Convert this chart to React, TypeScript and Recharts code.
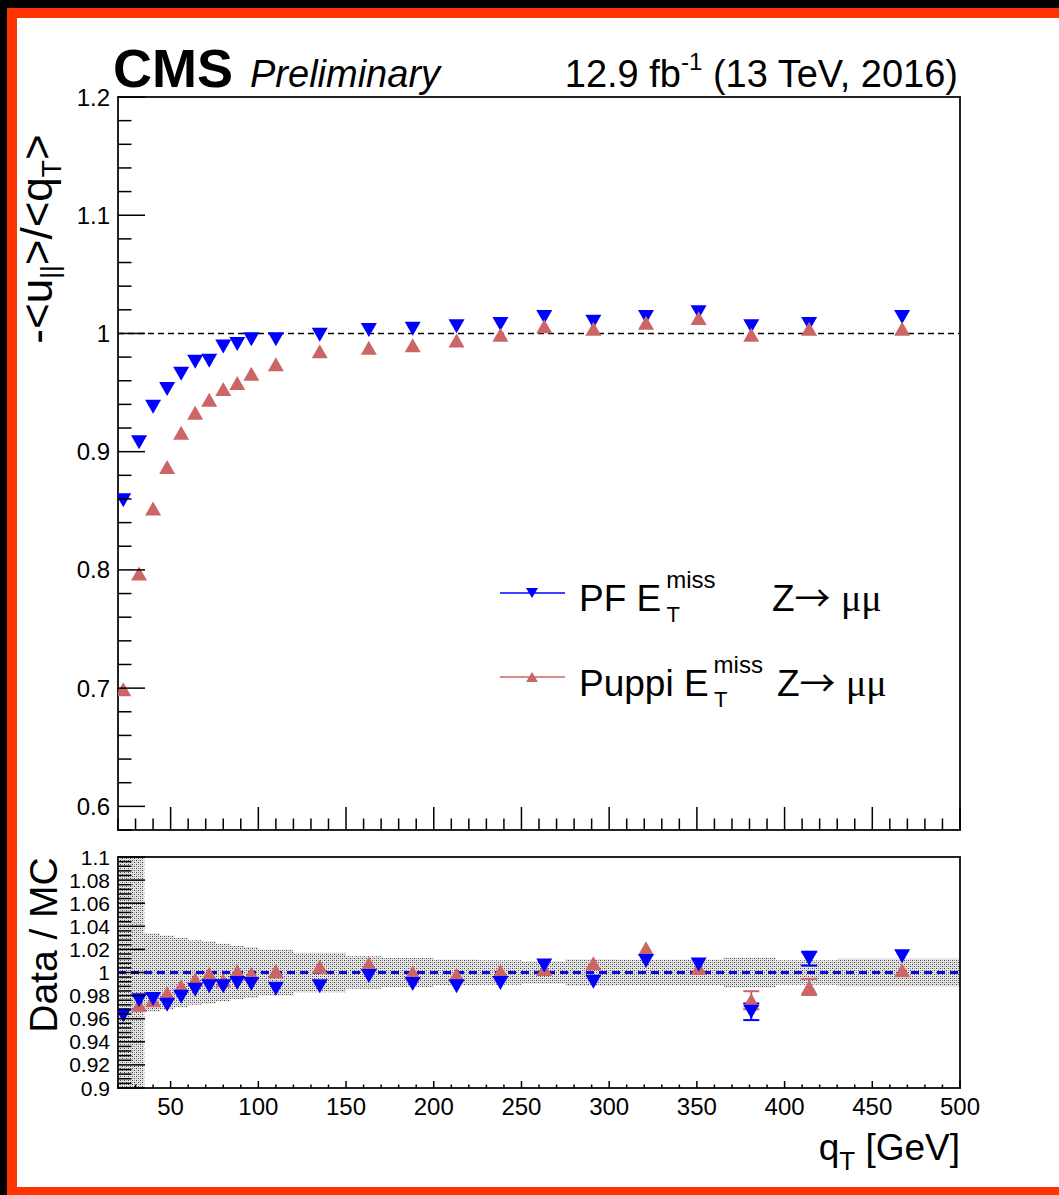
import React from 'react';
import {
  ComposedChart,
  Scatter,
  Area,
  XAxis,
  YAxis,
  ReferenceLine,
  ReferenceArea,
  ErrorBar,
} from 'recharts';

const FONT = '"Liberation Sans", Arial, Helvetica, sans-serif';
const PF_COLOR = '#0000ff';
const PUPPI_COLOR = '#cc6666';

// q_T bin centres [GeV]
const qT = [23, 32, 40, 48, 56, 64, 72, 80, 88, 96, 110, 135, 163, 188, 213, 238, 263, 291, 321, 351, 381, 414, 467];

// Response -<u_par>/<q_T> in data
const pfResponse = [0.859, 0.908, 0.938, 0.953, 0.966, 0.976, 0.977, 0.989, 0.991, 0.995, 0.995, 0.999, 1.003, 1.004, 1.006, 1.008, 1.014, 1.010, 1.014, 1.018, 1.006, 1.008, 1.014];
const puppiResponse = [0.699, 0.797, 0.852, 0.887, 0.916, 0.933, 0.944, 0.953, 0.958, 0.966, 0.974, 0.985, 0.988, 0.990, 0.994, 0.999, 1.006, 1.004, 1.009, 1.013, 0.999, 1.004, 1.004];

// Data / MC ratio of the response
const pfRatio = [0.963, 0.976, 0.977, 0.972, 0.979, 0.985, 0.988, 0.988, 0.991, 0.990, 0.986, 0.988, 0.997, 0.990, 0.988, 0.991, 1.006, 0.992, 1.010, 1.007, 0.966, 1.012, 1.014];
const puppiRatio = [null, 0.972, 0.976, 0.982, 0.988, 0.994, 0.999, 0.993, 1.001, 0.999, 1.001, 1.005, 1.0075, 1.000, 0.998, 1.001, 1.003, 1.008, 1.021, 1.004, 0.976, 0.9875, 1.002];
const pfRatioErr = [0, 0, 0, 0, 0, 0, 0, 0, 0, 0, 0, 0, 0, 0, 0, 0, 0, 0, 0, 0, 0.0072, 0.006, 0];
const puppiRatioErr = [0, 0, 0, 0, 0, 0, 0, 0, 0, 0, 0, 0, 0, 0, 0, 0, 0, 0, 0, 0, 0.0078, 0.007, 0];

// Systematic uncertainty band of the ratio (bin edges and half-widths)
const bandEdges = [20, 35, 44, 52, 60, 68, 76, 84, 92, 100, 120, 150, 170, 200, 225, 250, 275, 305, 335, 365, 395, 430, 500];
const bandHalfWidth = [0.1, 0.034, 0.032, 0.030, 0.028, 0.027, 0.025, 0.023, 0.022, 0.020, 0.017, 0.014, 0.0125, 0.0113, 0.0105, 0.0098, 0.0115, 0.011, 0.0113, 0.013, 0.0105, 0.012];

// Axis ticks and labels
const xMajor = [50, 100, 150, 200, 250, 300, 350, 400, 450, 500];
const xLabels = ['50', '100', '150', '200', '250', '300', '350', '400', '450', '500'];
const topYMajor = [0.6, 0.7, 0.8, 0.9, 1.0, 1.1, 1.2];
const topYLabels = ['0.6', '0.7', '0.8', '0.9', '1', '1.1', '1.2'];
const ratioYMajor = [0.9, 0.92, 0.94, 0.96, 0.98, 1.0, 1.02, 1.04, 1.06, 1.08, 1.1];
const ratioYLabels = ['0.9', '0.92', '0.94', '0.96', '0.98', '1', '1.02', '1.04', '1.06', '1.08', '1.1'];

const X_DOMAIN: [number, number] = [20, 500];
const TOP_Y_DOMAIN: [number, number] = [0.58, 1.2];
const RATIO_Y_DOMAIN: [number, number] = [0.9, 1.1];

const near = (a: number, b: number) => Math.abs(a - b) < 1e-6;

function withMinor(lo: number, hi: number, step: number, majors: number[]): number[] {
  const out: number[] = [...majors];
  const n = Math.round((hi - lo) / step);
  for (let i = 0; i <= n; i++) {
    const v = Math.round((lo + i * step) * 10000) / 10000;
    if (!majors.some((m) => near(m, v))) out.push(v);
  }
  return out.sort((a, b) => a - b);
}

const xTicks = withMinor(20, 500, 10, xMajor);
const topYTicks = withMinor(0.58, 1.2, 0.02, topYMajor);
const ratioYTicks = withMinor(0.9, 1.1, 0.004, ratioYMajor);

const responseRows = (values: (number | null)[]) =>
  qT.map((q, i) => ({ q, v: values[i] })).filter((r) => r.v !== null);

const ratioRows = (values: (number | null)[], errs: number[]) =>
  qT.map((q, i) => ({ q, v: values[i], err: errs[i] })).filter((r) => r.v !== null);

const pfTop = responseRows(pfResponse);
const puppiTop = responseRows(puppiResponse);
const pfBottom = ratioRows(pfRatio, pfRatioErr);
const puppiBottom = ratioRows(puppiRatio, puppiRatioErr);
const pfBottomErr = pfBottom.filter((r) => r.err > 0);
const puppiBottomErr = puppiBottom.filter((r) => r.err > 0);

const bandRows = bandEdges.map((q, i) => {
  const hw = bandHalfWidth[Math.min(i, bandHalfWidth.length - 1)];
  return { q, band: [1 - hw, 1 + hw] };
});

// Triangle markers (ROOT styles 22 / 23)
const triangle = (color: string, down: boolean, w = 16, h = 14) => (props: any) => {
  const { cx, cy } = props;
  if (cx == null || cy == null) return <g />;
  const pts = down
    ? `${cx - w / 2},${cy - h / 2} ${cx + w / 2},${cy - h / 2} ${cx},${cy + h / 2}`
    : `${cx - w / 2},${cy + h / 2} ${cx + w / 2},${cy + h / 2} ${cx},${cy - h / 2}`;
  return <polygon points={pts} fill={color} />;
};
const nothing = () => <g />;

// Inward-pointing ticks in the ROOT style
const yTick = (majors: number[], labels: string[] | null, majorLen: number, minorLen: number, fontSize: number) => (props: any) => {
  const { x, y, payload } = props;
  const idx = majors.findIndex((m) => near(m, payload.value));
  const isMajor = idx >= 0;
  return (
    <g>
      <line x1={x} y1={y} x2={x + (isMajor ? majorLen : minorLen)} y2={y} stroke="#000" strokeWidth={1.5} />
      {isMajor && labels && (
        <text x={x - 8} y={y} textAnchor="end" dominantBaseline="central" fontSize={fontSize} fontFamily={FONT} fill="#000">
          {labels[idx]}
        </text>
      )}
    </g>
  );
};

const xTick = (labels: string[] | null, majorLen: number, minorLen: number) => (props: any) => {
  const { x, y, payload } = props;
  const idx = xMajor.findIndex((m) => near(m, payload.value));
  const isMajor = idx >= 0;
  return (
    <g>
      <line x1={x} y1={y} x2={x} y2={y - (isMajor ? majorLen : minorLen)} stroke="#000" strokeWidth={1.5} />
      {isMajor && labels && (
        <text x={x} y={y + 27} textAnchor="middle" fontSize={24} fontFamily={FONT} fill="#000">
          {labels[idx]}
        </text>
      )}
    </g>
  );
};

function ResponsePanel() {
  return (
    <ComposedChart width={1059} height={860} margin={{ top: 97, right: 99, bottom: 0, left: 78 }}>
      <ReferenceLine y={1} stroke="#000" strokeWidth={1.5} strokeDasharray="6 4" />
      <Scatter data={pfTop} dataKey="v" shape={triangle(PF_COLOR, true)} isAnimationActive={false} />
      <Scatter data={puppiTop} dataKey="v" shape={triangle(PUPPI_COLOR, false)} isAnimationActive={false} />
      <ReferenceArea
        x1={X_DOMAIN[0]}
        x2={X_DOMAIN[1]}
        y1={TOP_Y_DOMAIN[0]}
        y2={TOP_Y_DOMAIN[1]}
        fill="none"
        fillOpacity={0}
        stroke="#222"
        strokeWidth={2}
      />
      <XAxis
        dataKey="q"
        type="number"
        domain={X_DOMAIN}
        allowDataOverflow
        ticks={xTicks}
        interval={0}
        tickSize={0}
        tickMargin={0}
        axisLine={false}
        height={30}
        tick={xTick(null, 23, 11.5)}
      />
      <YAxis
        dataKey="v"
        type="number"
        domain={TOP_Y_DOMAIN}
        allowDataOverflow
        ticks={topYTicks}
        interval={0}
        tickSize={0}
        tickMargin={0}
        axisLine={false}
        width={40}
        tick={yTick(topYMajor, topYLabels, 27, 13.5, 24)}
      />
    </ComposedChart>
  );
}

function RatioPanel() {
  return (
    <ComposedChart width={1059} height={355} margin={{ top: 17, right: 99, bottom: 67, left: 78 }}>
      <defs>
        <pattern id="stipple" width="4" height="4" patternUnits="userSpaceOnUse">
          <rect width="4" height="4" fill="#e4e4e4" />
          <rect x="0" y="0" width="1" height="1" fill="#404040" />
          <rect x="2" y="2" width="1" height="1" fill="#404040" />
          <rect x="2" y="0" width="1" height="1" fill="#a0a0a0" />
          <rect x="0" y="2" width="1" height="1" fill="#a0a0a0" />
        </pattern>
      </defs>
      <Area
        data={bandRows}
        dataKey="band"
        type="stepAfter"
        fill="url(#stipple)"
        fillOpacity={1}
        stroke="none"
        dot={false}
        activeDot={false}
        isAnimationActive={false}
      />
      <ReferenceLine y={1} stroke="#0a0adc" strokeWidth={3} strokeDasharray="8 5" />
      <Scatter data={puppiBottom} dataKey="v" shape={triangle(PUPPI_COLOR, false)} isAnimationActive={false} />
      <Scatter data={puppiBottomErr} dataKey="v" shape={nothing} isAnimationActive={false}>
        <ErrorBar dataKey="err" direction="y" width={8} stroke={PUPPI_COLOR} strokeWidth={2} />
      </Scatter>
      <Scatter data={pfBottom} dataKey="v" shape={triangle(PF_COLOR, true)} isAnimationActive={false} />
      <Scatter data={pfBottomErr} dataKey="v" shape={nothing} isAnimationActive={false}>
        <ErrorBar dataKey="err" direction="y" width={8} stroke={PF_COLOR} strokeWidth={2} />
      </Scatter>
      <ReferenceArea
        x1={X_DOMAIN[0]}
        x2={X_DOMAIN[1]}
        y1={RATIO_Y_DOMAIN[0]}
        y2={RATIO_Y_DOMAIN[1]}
        fill="none"
        fillOpacity={0}
        stroke="#222"
        strokeWidth={2}
      />
      <XAxis
        dataKey="q"
        type="number"
        domain={X_DOMAIN}
        allowDataOverflow
        ticks={xTicks}
        interval={0}
        tickSize={0}
        tickMargin={0}
        axisLine={false}
        height={40}
        tick={xTick(xLabels, 7, 3.5)}
      />
      <YAxis
        dataKey="v"
        type="number"
        domain={RATIO_Y_DOMAIN}
        allowDataOverflow
        ticks={ratioYTicks}
        interval={0}
        tickSize={0}
        tickMargin={0}
        axisLine={false}
        width={40}
        tick={yTick(ratioYMajor, ratioYLabels, 27, 13.5, 21)}
      />
    </ComposedChart>
  );
}

const SERIF = '"Liberation Serif", "DejaVu Serif", serif';
const ARROW_FONT = '"Noto Sans CJK SC", "DejaVu Sans", sans-serif';

// One legend entry: "<name> E_T^miss Z→ μμ" set as a single text run
function LegendText({ x, y, name, processX }: { x: number; y: number; name: string; processX: number }) {
  return (
    <>
      <text x={x} y={y} fontSize={37} fill="#000">
        {name}
        <tspan fontSize={24} dx={5} dy={-23}>miss</tspan>
        <tspan fontSize={22} dx={-49} dy={34}>T</tspan>
      </text>
      <text x={processX} y={y} fontSize={37} fill="#000">
        Z<tspan fontFamily={ARROW_FONT} fontSize={36} dy={1}>→</tspan>
        <tspan dy={-1}> </tspan>
        <tspan fontFamily={SERIF} fontSize={38}>μμ</tspan>
      </text>
    </>
  );
}

function Annotations() {
  return (
    <svg width={1059} height={1195} style={{ position: 'absolute', left: 0, top: 0, pointerEvents: 'none' }} fontFamily={FONT}>
      <text x={113} y={87} fontSize={54} fontWeight="bold" fill="#000">CMS</text>
      <text x={250} y={87} fontSize={38} fontStyle="italic" fill="#000">Preliminary</text>
      <text x={958} y={87} fontSize={38} textAnchor="end" fill="#000">
        12.9 fb<tspan fontSize={24} dy={-17}>-1</tspan>
        <tspan dy={17}> (13 TeV, 2016)</tspan>
      </text>

      <text transform="translate(52,239) rotate(-90)" textAnchor="middle" fontSize={44} fill="#000">
        {'-<u'}
        <tspan fontSize={26} dy={7}>||</tspan>
        <tspan dy={-7}>{'>/<q'}</tspan>
        <tspan fontSize={28} dy={9}>T</tspan>
        <tspan dy={-9}>{'>'}</tspan>
      </text>

      <text transform="translate(57,945) rotate(-90)" textAnchor="middle" fontSize={39} fill="#000">
        Data / MC
      </text>

      <text x={960} y={1160} textAnchor="end" fontSize={37} fill="#000">
        q<tspan fontSize={26} dy={10}>T</tspan>
        <tspan dy={-10}> [GeV]</tspan>
      </text>

      {/* legend */}
      <line x1={500} y1={593} x2={565} y2={593} stroke={PF_COLOR} strokeWidth={1.5} />
      <polygon points="526,588 538,588 532,598" fill={PF_COLOR} />
      <LegendText x={579} y={611} name="PF E" processX={772} />

      <line x1={500} y1={677} x2={565} y2={677} stroke={PUPPI_COLOR} strokeWidth={1.5} />
      <polygon points="526,682 538,682 532,672" fill={PUPPI_COLOR} />
      <LegendText x={579} y={696} name="Puppi E" processX={777} />
    </svg>
  );
}

export default function App() {
  return (
    <div
      style={{
        position: 'absolute',
        left: 0,
        top: 0,
        width: 1059,
        height: 1195,
        background: '#000',
        overflow: 'hidden',
        fontFamily: FONT,
      }}
    >
      <div style={{ position: 'absolute', left: 7, top: 8, right: 0, bottom: 0, background: '#fe3300' }} />
      <div style={{ position: 'absolute', left: 17, top: 18, right: 0, bottom: 8, background: '#ffffff' }} />
      <div style={{ position: 'absolute', left: 0, top: 0, width: 1059, height: 860 }}>
        <ResponsePanel />
      </div>
      <div style={{ position: 'absolute', left: 0, top: 840, width: 1059, height: 355 }}>
        <RatioPanel />
      </div>
      <Annotations />
    </div>
  );
}
